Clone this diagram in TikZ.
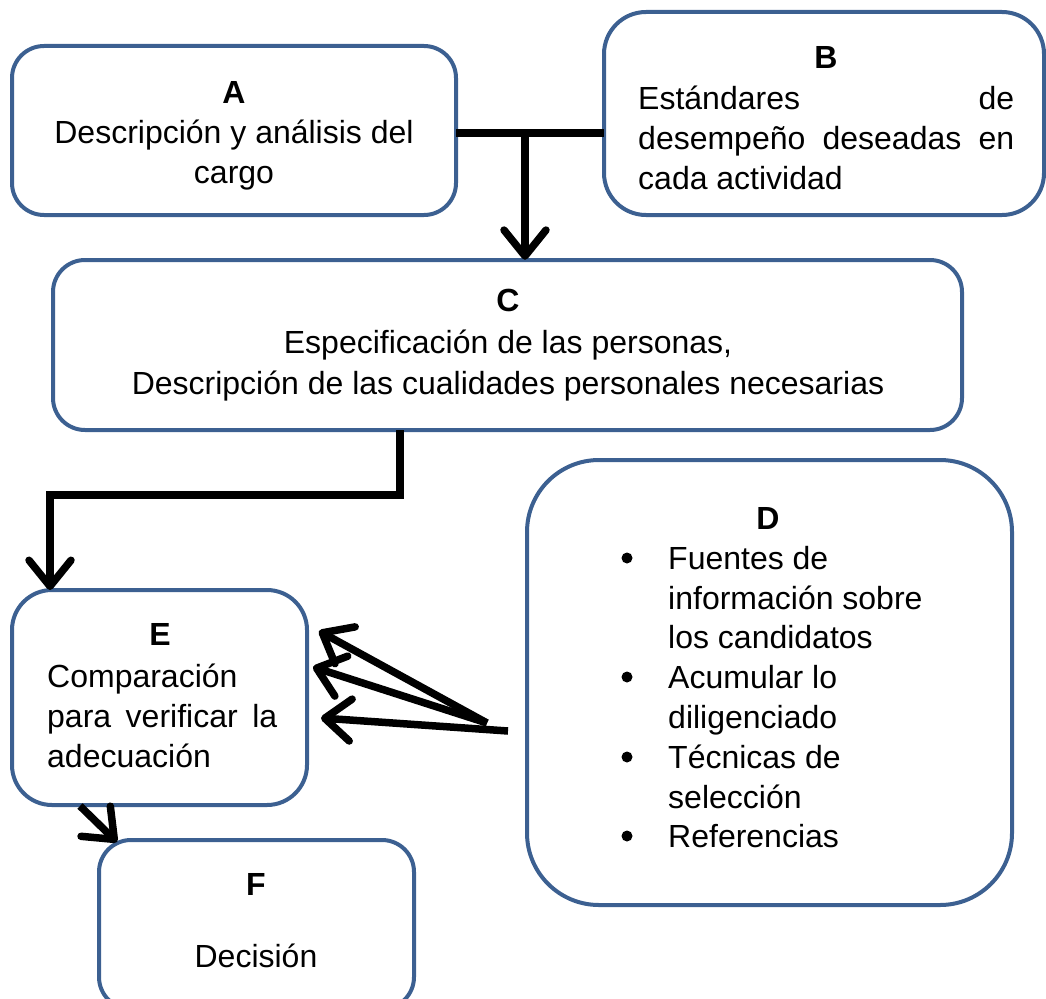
\documentclass[tikz,border=0pt]{standalone}
\usepackage{fontspec}
\setmainfont{Liberation Sans}
\usetikzlibrary{arrows.meta}
\definecolor{boxblue}{RGB}{60,96,145}
\begin{document}
\begin{tikzpicture}[x=1pt,y=-1pt,
  box/.style={draw=boxblue,line width=4pt,rounded corners=#1},
  txt/.style={inner sep=0pt,anchor=base,font=\fontsize{32}{40}\selectfont},
  ltxt/.style={txt,anchor=base west},
  arr/.style={line width=7.5pt,-{Straight Barb[length=26pt,width=42pt,round]}},
  conn/.style={line width=7.5pt}]
\useasboundingbox (0,0) rectangle (1046,998);
% boxes
\draw[box=32pt] (12,46) rectangle (456,215);
\node[inner sep=0pt,minimum width=444pt,minimum height=169pt] (A) at (234,130.5) {};
\draw[box=42pt] (604,12) rectangle (1044,215);
\node[inner sep=0pt,minimum width=440pt,minimum height=203pt] (B) at (824,113.5) {};
\draw[box=32pt] (53,260) rectangle (962,430);
\node[inner sep=0pt,minimum width=909pt,minimum height=170pt] (C) at (507.5,345) {};
\draw[box=72pt] (527,460) rectangle (1012,905);
\node[inner sep=0pt,minimum width=485pt,minimum height=445pt] (D) at (769.5,682.5) {};
\draw[box=40pt] (12,590) rectangle (307,805);
\node[inner sep=0pt,minimum width=295pt,minimum height=215pt] (E) at (159.5,697.5) {};
\draw[box=32pt] (99,840) rectangle (414,1009);
\node[inner sep=0pt,minimum width=315pt,minimum height=169pt] (F) at (256.5,924.5) {};
% texts A
\node[txt] (tA) at (234,103) {\textbf{A}};
\node[txt] (tA1) at (234,143) {Descripción y análisis del};
\node[txt] (tA2) at (234,183) {cargo};
% B
\node[txt] (tB) at (826,69) {\textbf{B}};
\node[ltxt] (tB1) at (638,109) {\hbox to 376pt{Estándares\hfill de}};
\node[ltxt] (tB2) at (638,149) {\hbox to 376pt{desempeño\hfill deseadas\hfill en}};
\node[ltxt] (tB3) at (638,189) {cada actividad};
% C
\node[txt] (tC) at (508,311) {\textbf{C}};
\node[txt] (tC1) at (508,353) {Especificación de las personas,};
\node[txt] (tC2) at (508,394) {Descripción de las cualidades personales necesarias};
% D
\node[txt] (tD) at (768,529) {\textbf{D}};
\foreach \n/\y/\t in {1/569/Fuentes de,2/609/información sobre,3/648/los candidatos,4/688/Acumular lo,5/728/diligenciado,6/768/Técnicas de,7/808/selección,8/847/Referencias}{
  \node[ltxt] (tD\n) at (668,\y) {\t};
}
\foreach \n/\y in {1/558,4/677,6/757,8/836}{
  \fill (627,\y) circle (5.5pt) coordinate (bD\n);
}
% E
\node[txt] (tE) at (160,645) {\textbf{E}};
\node[ltxt] (tE1) at (47,687) {Comparación};
\node[ltxt] (tE2) at (47,727) {\hbox to 230pt{para\hfill verificar\hfill la}};
\node[ltxt] (tE3) at (47,767) {adecuación};
% F
\node[txt] (tF) at (256,895) {\textbf{F}};
\node[txt] (tF1) at (256,967) {Decisión};
% connectors
\coordinate (jAB) at (525,133);
\draw[conn] (A.east|-jAB) -- (B.west|-jAB);
\draw[arr] (jAB) -- (jAB|-C.north);
\coordinate (cE) at (400,495);
\coordinate (eIn) at (50,590);
\draw[arr] (C.south-|cE) -- (cE) -- (cE-|eIn) -- (eIn);
\coordinate (dOut) at (508,731);
\coordinate (dA) at (487,723);
\coordinate (t1) at (319,631);
\coordinate (t2) at (313,667);
\coordinate (t3) at (321,718);
\draw[arr] (dA) -- (t1);
\draw[arr] (dA) -- (t2);
\draw[arr] (dOut) -- (t3);
\coordinate (ef1) at (80,806);
\coordinate (ef2) at (117,842);
\draw[arr] (ef1) -- (ef2);
\end{tikzpicture}
\end{document}
